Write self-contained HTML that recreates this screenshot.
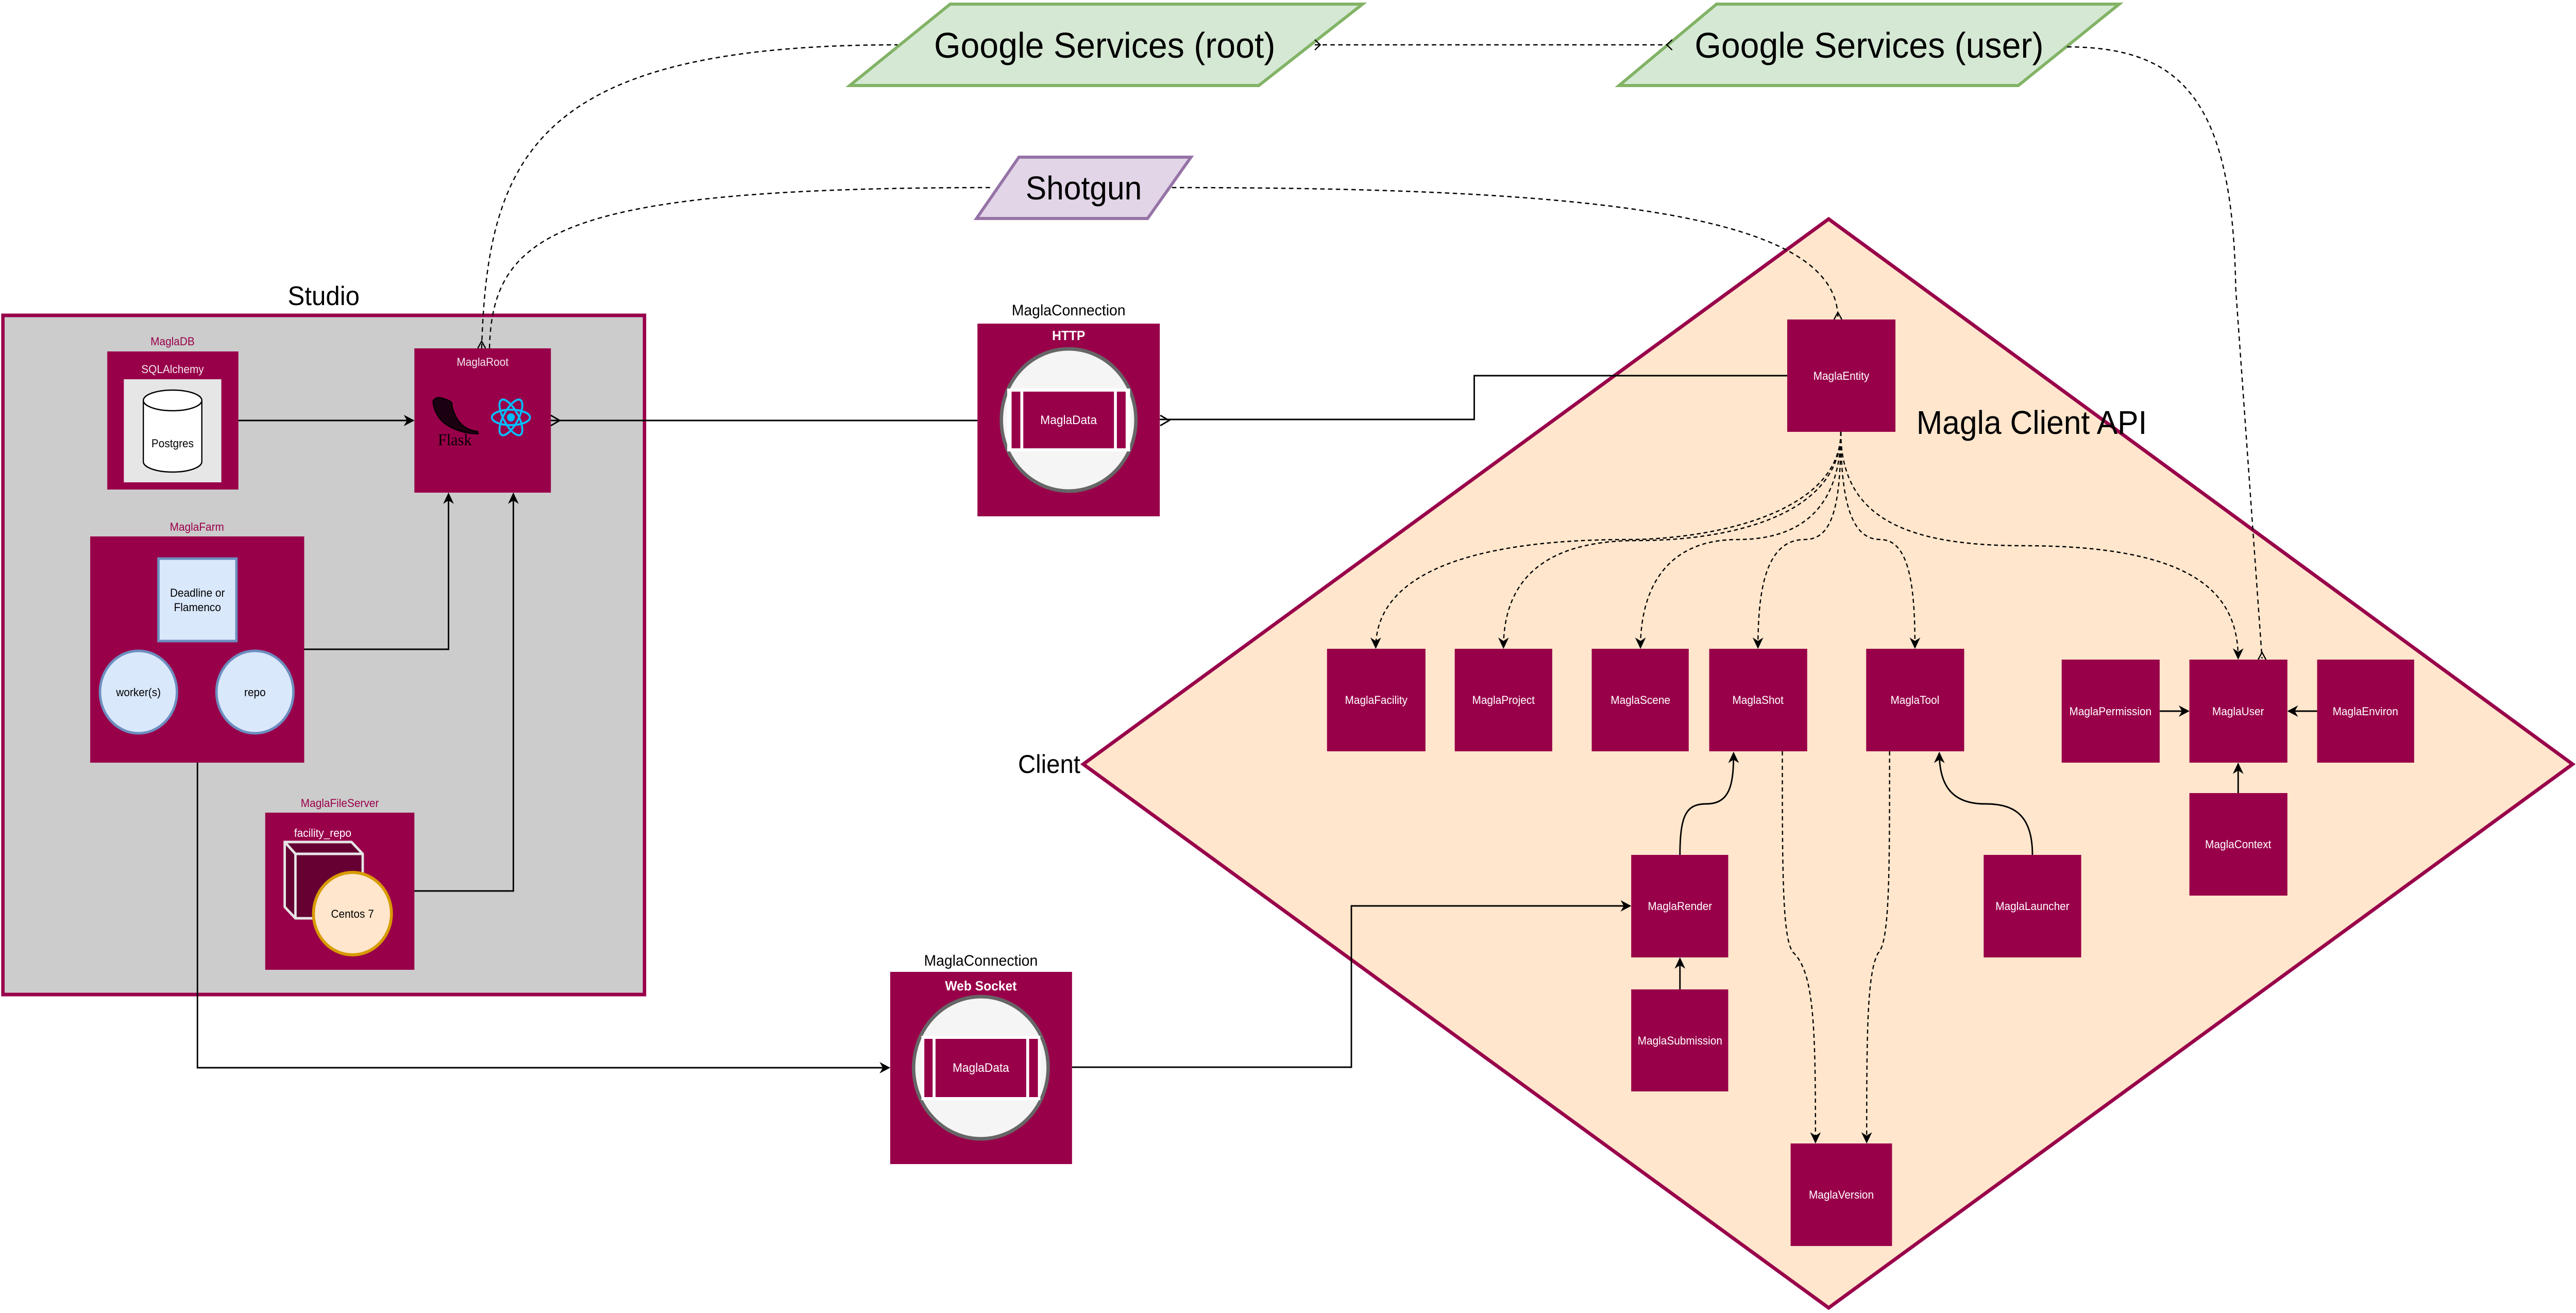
<!DOCTYPE html>
<html><head><meta charset="utf-8"><style>
html,body{margin:0;padding:0;background:#fff;overflow:hidden;width:100vw;height:100vh;}
svg{display:block;position:absolute;left:0;top:0;width:100vw;height:100vh;font-family:"Liberation Sans",sans-serif;}
</style></head><body>
<svg viewBox="0 0 5284 2548" preserveAspectRatio="none" xmlns="http://www.w3.org/2000/svg">
<defs>
<marker id="arS" viewBox="0 0 10 10" refX="9" refY="5" markerWidth="22" markerHeight="22" markerUnits="userSpaceOnUse" orient="auto"><path d="M0,0 L10,5 L0,10 L3,5 z" fill="#000"/></marker>
</defs>

<!-- Studio -->
<rect x="6" y="612" width="1316" height="1318" fill="#cccccc" stroke="#99004a" stroke-width="7"/>
<text x="664" y="592" font-size="52" text-anchor="middle">Studio</text>

<!-- MaglaDB -->
<text x="354" y="670" font-size="22" fill="#99004a" text-anchor="middle">MaglaDB</text>
<rect x="220" y="682" width="269" height="268" fill="#99004a"/>
<text x="354" y="724" font-size="22" fill="#f2e6ec" text-anchor="middle">SQLAlchemy</text>
<rect x="254" y="736" width="200" height="200" fill="#e6e6e6"/>
<path d="M294 777 L294 896 A60 20 0 0 0 414 896 L414 777" fill="#fff" stroke="#000" stroke-width="2.5"/>
<ellipse cx="354" cy="777" rx="60" ry="20" fill="#fff" stroke="#000" stroke-width="2.5"/>
<text x="354" y="868" font-size="22" text-anchor="middle">Postgres</text>

<!-- MaglaRoot -->
<rect x="850" y="676" width="280" height="280" fill="#99004a"/>
<text x="990" y="710" font-size="22" fill="#f2e6ec" text-anchor="middle">MaglaRoot</text>
<path d="M889 785 C885 775 895 770 905 772 C920 776 930 780 927 786 C935 820 955 835 980 837 L981 842 C950 842 915 830 900 810 C893 800 890 792 889 785 z" fill="#1a0010" stroke="#000" stroke-width="2"/>
<text x="933" y="864" font-size="32" font-family="Liberation Serif,serif" text-anchor="middle" fill="#000">Flask</text>
<g transform="translate(1048,810)" fill="none" stroke="#00bfff" stroke-width="4">
<ellipse rx="39" ry="15"/>
<ellipse rx="39" ry="15" transform="rotate(60)"/>
<ellipse rx="39" ry="15" transform="rotate(-60)"/>
<circle r="8" fill="#00bfff" stroke="none"/>
</g>

<!-- MaglaFarm -->
<text x="404" y="1030" font-size="22" fill="#99004a" text-anchor="middle">MaglaFarm</text>
<rect x="185" y="1041" width="439" height="439" fill="#99004a"/>
<rect x="325" y="1084" width="160" height="160" fill="#dae8fc" stroke="#6c8ebf" stroke-width="5"/>
<text x="405" y="1158" font-size="22" text-anchor="middle">Deadline or</text>
<text x="405" y="1186" font-size="22" text-anchor="middle">Flamenco</text>
<ellipse cx="284" cy="1343" rx="79" ry="80" fill="#dae8fc" stroke="#6c8ebf" stroke-width="5"/>
<text x="284" y="1351" font-size="22" text-anchor="middle">worker(s)</text>
<ellipse cx="523" cy="1343" rx="79" ry="80" fill="#dae8fc" stroke="#6c8ebf" stroke-width="5"/>
<text x="523" y="1351" font-size="22" text-anchor="middle">repo</text>

<!-- MaglaFileServer -->
<text x="697" y="1566" font-size="22" fill="#99004a" text-anchor="middle">MaglaFileServer</text>
<rect x="544" y="1577" width="306" height="305" fill="#99004a"/>
<text x="662" y="1624" font-size="22" fill="#fff" text-anchor="middle">facility_repo</text>
<path d="M584 1634 L721 1634 L744 1657 L744 1782 L606 1782 L584 1760 z" fill="#660033" stroke="#e6e6e6" stroke-width="5"/>
<path d="M584 1634 L606 1657 L744 1657 M606 1657 L606 1782" fill="none" stroke="#e6e6e6" stroke-width="5"/>
<circle cx="723" cy="1773" r="80" fill="#ffe6cc" stroke="#d79b00" stroke-width="6"/>
<text x="723" y="1781" font-size="22" text-anchor="middle">Centos 7</text>

<!-- Studio connectors -->
<line x1="489" y1="816" x2="848" y2="816" stroke="#000" stroke-width="3" marker-end="url(#arS)"/>
<polyline points="624,1260 920,1260 920,958" fill="none" stroke="#000" stroke-width="3" marker-end="url(#arS)"/>
<polyline points="850,1729 1053,1729 1053,958" fill="none" stroke="#000" stroke-width="3" marker-end="url(#arS)"/>
<polyline points="405,1480 405,2072 1824,2072" fill="none" stroke="#000" stroke-width="3" marker-end="url(#arS)"/>

<!-- Root <-> HTTP -->
<line x1="1130" y1="816" x2="2005" y2="816" stroke="#000" stroke-width="3"/>
<polyline points="1130,806 1148,816 1130,826" fill="none" stroke="#000" stroke-width="3"/>
<polyline points="2380,806 2398,816 2380,826" fill="none" stroke="#000" stroke-width="3"/>

<!-- HTTP connection -->
<text x="2192" y="612" font-size="30" text-anchor="middle">MaglaConnection</text>
<rect x="2005" y="628" width="374" height="374" fill="#99004a"/>
<text x="2192" y="660" font-size="26" font-weight="bold" fill="#fff" text-anchor="middle">HTTP</text>
<circle cx="2192" cy="815" r="138" fill="#f5f5f5" stroke="#666" stroke-width="7"/>
<rect x="2066" y="754" width="252" height="122" fill="#fff"/>
<rect x="2075" y="760" width="18" height="110" fill="#99004a"/>
<rect x="2099" y="760" width="186" height="110" fill="#99004a"/>
<rect x="2291" y="760" width="18" height="110" fill="#99004a"/>
<text x="2192" y="823" font-size="24" fill="#fff" text-anchor="middle">MaglaData</text>

<!-- WS connection -->
<text x="2012" y="1874" font-size="30" text-anchor="middle">MaglaConnection</text>
<rect x="1826" y="1886" width="373" height="373" fill="#99004a"/>
<text x="2012" y="1922" font-size="26" font-weight="bold" fill="#fff" text-anchor="middle">Web Socket</text>
<circle cx="2012" cy="2072" r="138" fill="#f5f5f5" stroke="#666" stroke-width="7"/>
<rect x="1890" y="2010" width="244" height="125" fill="#fff"/>
<rect x="1896" y="2016" width="17" height="113" fill="#99004a"/>
<rect x="1919" y="2016" width="186" height="113" fill="#99004a"/>
<rect x="2111" y="2016" width="18" height="113" fill="#99004a"/>
<text x="2012" y="2080" font-size="24" fill="#fff" text-anchor="middle">MaglaData</text>

<!-- Diamond -->
<polygon points="3751,425 5277,1483 3751,2538 2222,1483" fill="#ffe6cc" stroke="#99004a" stroke-width="7"/>
<text x="2216" y="1500" font-size="50" text-anchor="end">Client</text>
<text x="3931" y="842" font-size="64">Magla Client API</text>

<!-- Google / Shotgun -->
<polygon points="1949,8 2795,8 2582,166 1743,166" fill="#d5e8d4" stroke="#82b366" stroke-width="6"/>
<text x="2266" y="112" font-size="70" text-anchor="middle">Google Services (root)</text>
<polygon points="3521,8 4347,8 4140,166 3321,166" fill="#d5e8d4" stroke="#82b366" stroke-width="6"/>
<text x="3834" y="112" font-size="70" text-anchor="middle">Google Services (user)</text>
<polygon points="2090,305 2443,305 2354,424 2003,424" fill="#e1d5e7" stroke="#9673a6" stroke-width="6"/>
<text x="2223" y="387" font-size="64" text-anchor="middle">Shotgun</text>

<!-- dashed external connectors -->
<g fill="none" stroke="#000" stroke-width="2.5" stroke-dasharray="9 7">
<path d="M988 676 C1000 300 1100 87 1841 87"/>
<path d="M1004 676 C1010 450 1150 364 2036 364"/>
<path d="M2404 364 C3300 364 3770 420 3770 618"/>
<path d="M2697 87 L3419 87"/>
<path d="M4240 91 C4480 91 4580 200 4586 560 L4640 1278"/>
</g>
<g fill="none" stroke="#000" stroke-width="2.5">
<polyline points="980,676 988,662 996,676"/>
<polyline points="2697,77 2708,87 2697,97"/>
<polyline points="3430,77 3419,87 3430,97"/>
<polyline points="3762,620 3770,606 3778,620"/>
<polyline points="4632,1280 4640,1266 4648,1280"/>
</g>

<!-- Entity to HTTP -->
<polyline points="3666,729 3024,729 3024,814 2379,814" fill="none" stroke="#000" stroke-width="3"/>

<!-- Entity fan (dashed) -->
<g fill="none" stroke="#000" stroke-width="2.5" stroke-dasharray="8 6" marker-end="url(#arS)">
<path d="M3776 838 C3776 1000 3500 1047 3340 1047 C3000 1047 2822 1120 2822 1257"/>
<path d="M3776 838 C3776 1000 3550 1049 3358 1049 C3150 1049 3084 1140 3084 1257"/>
<path d="M3776 838 C3776 980 3700 1047 3564 1047 C3420 1047 3365 1140 3365 1257"/>
<path d="M3776 838 C3776 980 3760 1047 3702 1047 C3620 1047 3606 1150 3606 1257"/>
<path d="M3776 838 C3776 980 3800 1047 3857 1047 C3920 1047 3928 1150 3928 1257"/>
<path d="M3776 838 C3776 1000 3900 1059 4150 1059 C4500 1059 4591 1150 4591 1278"/>
<path d="M3656 1458 C3656 1700 3656 1830 3680 1850 C3722 1890 3724 2000 3724 2217"/>
<path d="M3876 1458 C3876 1700 3876 1830 3852 1850 C3830 1890 3829 2000 3829 2217"/>
</g>

<!-- solid internal connectors -->
<g fill="none" stroke="#000" stroke-width="3" marker-end="url(#arS)">
<path d="M3446 1659 C3446 1580 3460 1560 3500 1560 C3550 1560 3556 1520 3556 1461"/>
<path d="M4169 1659 C4169 1580 4130 1560 4072 1560 C4000 1560 3978 1520 3978 1461"/>
<line x1="3446" y1="1920" x2="3446" y2="1860"/>
<line x1="4430" y1="1380" x2="4489" y2="1380"/>
<line x1="4753" y1="1380" x2="4694" y2="1380"/>
<line x1="4591" y1="1539" x2="4591" y2="1482"/>
</g>
<polyline points="2199,2071 2772,2071 2772,1758 3344,1758" fill="none" stroke="#000" stroke-width="3" marker-end="url(#arS)"/>

<!-- Client nodes -->
<g fill="#99004a">
<rect x="3666" y="620" width="222" height="218"/>
<rect x="2722" y="1259" width="202" height="199"/>
<rect x="2984" y="1259" width="200" height="199"/>
<rect x="3265" y="1259" width="199" height="199"/>
<rect x="3506" y="1259" width="201" height="199"/>
<rect x="3828" y="1259" width="201" height="199"/>
<rect x="4229" y="1280" width="201" height="200"/>
<rect x="4491" y="1280" width="201" height="200"/>
<rect x="4753" y="1280" width="199" height="200"/>
<rect x="4491" y="1539" width="201" height="199"/>
<rect x="3346" y="1659" width="199" height="199"/>
<rect x="3346" y="1920" width="199" height="198"/>
<rect x="4069" y="1659" width="200" height="199"/>
<rect x="3673" y="2219" width="208" height="199"/>
</g>
<g font-size="22" fill="#fff" text-anchor="middle">
<text x="3777" y="737">MaglaEntity</text>
<text x="2823" y="1366">MaglaFacility</text>
<text x="3084" y="1366">MaglaProject</text>
<text x="3365" y="1366">MaglaScene</text>
<text x="3606" y="1366">MaglaShot</text>
<text x="3928" y="1366">MaglaTool</text>
<text x="4329" y="1388">MaglaPermission</text>
<text x="4591" y="1388">MaglaUser</text>
<text x="4852" y="1388">MaglaEnviron</text>
<text x="4591" y="1646">MaglaContext</text>
<text x="3446" y="1766">MaglaRender</text>
<text x="3446" y="2027">MaglaSubmission</text>
<text x="4169" y="1766">MaglaLauncher</text>
<text x="3777" y="2326">MaglaVersion</text>
</g>
</svg>
</body></html>
